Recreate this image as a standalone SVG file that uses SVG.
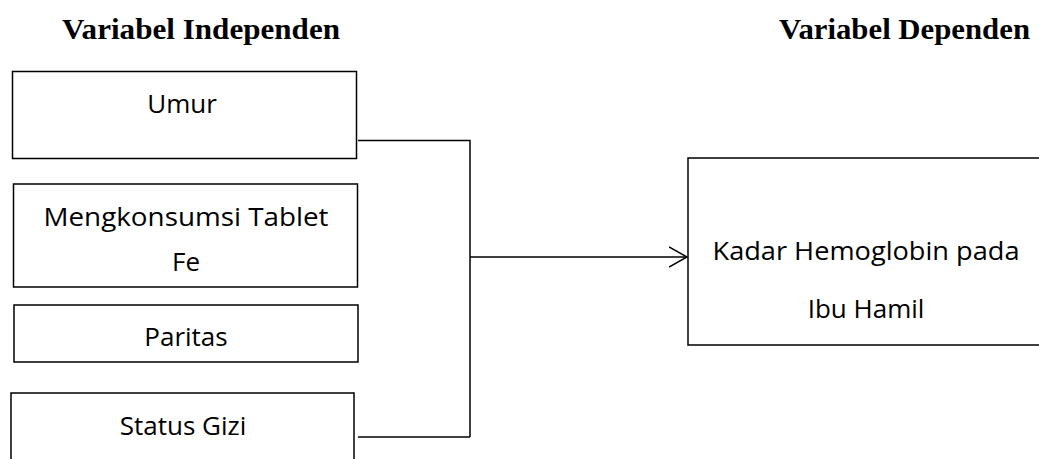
<svg xmlns="http://www.w3.org/2000/svg" width="1039" height="459" viewBox="0 0 1039 459">
<style>
.box{fill:#fff;stroke:#000;stroke-width:1.5}
.t{font-family:"Open Sans","Liberation Sans",sans-serif;font-size:26px;fill:#000;text-anchor:middle}
.h{font-family:"Liberation Serif","Times New Roman",serif;font-weight:bold;font-size:29px;fill:#000}
.c{fill:none;stroke:#000;stroke-width:1.5}
</style>
<defs>
<marker id="arr" markerWidth="20" markerHeight="24" refX="18" refY="11" orient="auto" markerUnits="userSpaceOnUse">
<path d="M0,1 L18,11 L0,21" fill="none" stroke="#000" stroke-width="1.5"/>
</marker>
</defs>
<rect width="1039" height="459" fill="#fff"/>
<text class="h" x="62" y="39" textLength="278" lengthAdjust="spacingAndGlyphs">Variabel Independen</text>
<text class="h" x="779" y="39" textLength="251" lengthAdjust="spacingAndGlyphs">Variabel Dependen</text>
<g id="connectors">
<polyline class="c" points="358,140.5 470,140.5 470,437"/>
<line class="c" x1="358" y1="437" x2="470" y2="437"/>
<line class="c" x1="470" y1="257" x2="687" y2="257" marker-end="url(#arr)"/>
</g>
<g id="umur">
<rect class="box" x="12.5" y="71.5" width="344" height="87"/>
<text class="t" x="182" y="113">Umur</text>
</g>
<g id="fe">
<rect class="box" x="13.5" y="184" width="344" height="103"/>
<text class="t" x="186" y="226" textLength="285" lengthAdjust="spacingAndGlyphs">Mengkonsumsi Tablet</text>
<text class="t" x="186" y="271">Fe</text>
</g>
<g id="paritas">
<rect class="box" x="14" y="305" width="344" height="57"/>
<text class="t" x="186" y="346">Paritas</text>
</g>
<g id="gizi">
<rect class="box" x="11" y="393" width="343" height="80"/>
<text class="t" x="183" y="435">Status Gizi</text>
</g>
<g id="kadar">
<rect class="box" x="688" y="158" width="360" height="187"/>
<text class="t" x="866" y="260" textLength="307" lengthAdjust="spacingAndGlyphs">Kadar Hemoglobin pada</text>
<text class="t" x="866" y="318">Ibu Hamil</text>
</g>
</svg>
